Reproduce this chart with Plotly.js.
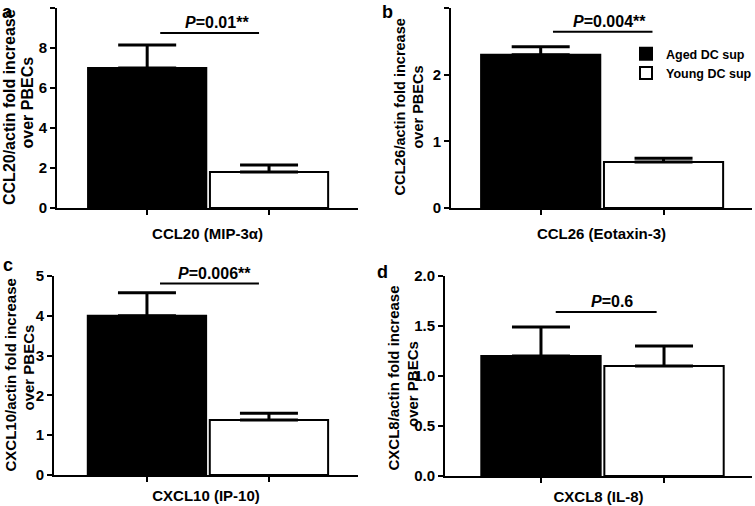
<!DOCTYPE html>
<html>
<head>
<meta charset="utf-8">
<script src="https://cdn.plot.ly/plotly-3.0.1.min.js"></script>
<style>html,body{margin:0;padding:0;background:#fff;}#chart{width:755px;height:506px;}</style>
</head>
<body>
<div id="chart"></div>
<script>
// ---- data ----
var groups = ["Aged DC sup", "Young DC sup"];
var panelLetters = ["a", "b", "c", "d"];
var genes = ["CCL20 (MIP-3α)", "CCL26 (Eotaxin-3)", "CXCL10 (IP-10)", "CXCL8 (IL-8)"];
var yTitles = [
  "CCL20/actin fold increase<br>over PBECs",
  "CCL26/actin fold increase<br>over PBECs",
  "CXCL10/actin fold increase<br>over PBECs",
  "CXCL8/actin fold increase<br>over PBECs"
];
var agedMeans  = [7.0, 2.3, 4.0, 1.2];
var agedSEM    = [1.15, 0.12, 0.58, 0.29];
var youngMeans = [1.8, 0.69, 1.38, 1.1];
var youngSEM   = [0.35, 0.055, 0.17, 0.2];
var pLabels = ["<i>P</i>=0.01**", "<i>P</i>=0.004**", "<i>P</i>=0.006**", "<i>P</i>=0.6"];
var yMax = [10, 3, 5, 2];
var yDtick = [2, 1, 1, 0.5];
var yFormat = ["", "", "", ".1f"];

// ---- layout geometry (pixels / axis positions) ----
var W = 755, H = 506;
var dom = [
  {x: [57, 358], y: [8, 208], xr: [-0.74, 1.73], sig: [0.107, 0.918, 8.75], px: 0.57, xs: 12,
   ytx: [9.5, 27.5], yty: [107.5, 103], ytf: 16},
  {x: [451, 752], y: [8, 208], xr: [-0.73, 1.72], sig: [0.10, 0.91, 2.645], px: 0.557, xs: 12,
   ytx: [399, 417.5], yty: [107.5, 107], ytf: 14.5},
  {x: [54, 358], y: [276, 475], xr: [-0.762, 1.73], sig: [0.107, 0.918, 4.81], px: 0.55, xs: 7,
   ytx: [9.5, 27.5], yty: [375, 368], ytf: 15},
  {x: [445, 752], y: [276, 476], xr: [-0.78, 1.715], sig: [0.12, 0.94, 1.64], px: 0.58, xs: 7,
   ytx: [392.5, 412], yty: [378, 384], ytf: 15}
];
var FONT = "Liberation Sans, Arial, sans-serif";

var traces = [];
var layout = {
  width: W, height: H,
  margin: {l: 0, r: 0, t: 0, b: 0, autoexpand: false},
  paper_bgcolor: "#fff", plot_bgcolor: "#fff",
  font: {family: FONT, size: 14, color: "#000", weight: "bold"},
  bargap: 0, barmode: "overlay",
  showlegend: true,
  legend: {x: 626 / W, y: 1 - 39 / H, xanchor: "left", yanchor: "top",
           font: {family: FONT, size: 12.5, color: "#000", weight: "bold"},
           bgcolor: "rgba(0,0,0,0)", tracegroupgap: 0},
  annotations: [], shapes: []
};

for (var i = 0; i < 4; i++) {
  var n = i === 0 ? "" : String(i + 1);
  var xa = "x" + n, ya = "y" + n;
  var d = dom[i];
  var means = [agedMeans[i], youngMeans[i]];
  var sems = [agedSEM[i], youngSEM[i]];
  [0, 1].forEach(function (g) {
    traces.push({
      type: "bar",
      x: [g], y: [means[g]],
      width: 0.97,
      name: groups[g],
      legendgroup: groups[g],
      showlegend: i === 0,
      xaxis: xa, yaxis: ya,
      marker: {color: g === 0 ? "#000" : "#fff", line: {color: "#000", width: 2}},
      hoverinfo: "skip"
    });
  });
  // upward-only SEM bars (cap only at the top)
  traces.push({
    type: "scatter", mode: "markers",
    x: [0, 1], y: [means[0] + sems[0], means[1] + sems[1]],
    marker: {size: 0.1, color: "rgba(0,0,0,0)"},
    error_y: {type: "data", symmetric: false, array: [0, 0], arrayminus: sems,
              color: "#000", thickness: 3, width: 29},
    xaxis: xa, yaxis: ya, showlegend: false, hoverinfo: "skip", cliponaxis: false
  });
  layout["xaxis" + n] = {
    domain: [d.x[0] / W, d.x[1] / W], anchor: ya,
    range: d.xr, showgrid: false, zeroline: false,
    showline: true, linewidth: 2, linecolor: "#000",
    tickvals: [0, 1], ticktext: ["", ""], ticks: "outside", ticklen: 5, tickwidth: 2, tickcolor: "#000",
    title: {text: genes[i], font: {family: FONT, size: 15, color: "#000", weight: "bold"}, standoff: d.xs},
    fixedrange: true
  };
  layout["yaxis" + n] = {
    domain: [1 - d.y[1] / H, 1 - d.y[0] / H], anchor: xa,
    range: [0, yMax[i]], dtick: yDtick[i], tick0: 0, tickformat: yFormat[i],
    showgrid: false, zeroline: false,
    showline: true, linewidth: 2, linecolor: "#000",
    ticks: "outside", ticklen: 5, tickwidth: 2, tickcolor: "#000",
    tickfont: {family: FONT, size: 15, color: "#000", weight: "bold"},
    fixedrange: true
  };
  // y-axis title: two rotated lines
  var lines = yTitles[i].split("<br>");
  for (var L = 0; L < lines.length; L++) {
    layout.annotations.push({xref: "paper", yref: "paper",
      x: d.ytx[L] / W, y: 1 - d.yty[L] / H, xanchor: "center", yanchor: "middle",
      textangle: -90, showarrow: false, text: lines[L], borderpad: 0,
      font: {family: FONT, size: d.ytf, color: "#000", weight: "bold"}});
  }
  // significance bar + P value
  layout.shapes.push({type: "line", xref: xa, yref: ya,
    x0: d.sig[0], x1: d.sig[1], y0: d.sig[2], y1: d.sig[2],
    line: {color: "#000", width: 2}});
  layout.annotations.push({xref: xa, yref: ya, x: d.px, y: d.sig[2],
    xanchor: "center", yanchor: "bottom", showarrow: false, text: pLabels[i],
    font: {family: FONT, size: 16, color: "#000", weight: "bold"}});
}
// panel letters
var letterPos = [[0, 0], [380, 0], [1, 253], [375, 260]];
for (var k = 0; k < 4; k++) {
  layout.annotations.push({xref: "paper", yref: "paper",
    x: letterPos[k][0] / W, y: 1 - letterPos[k][1] / H, xanchor: "left", yanchor: "top",
    showarrow: false, text: panelLetters[k],
    font: {family: FONT, size: 18, color: "#000", weight: "bold"}});
}

Plotly.newPlot("chart", traces, layout, {displayModeBar: false, staticPlot: true});
</script>
</body>
</html>
